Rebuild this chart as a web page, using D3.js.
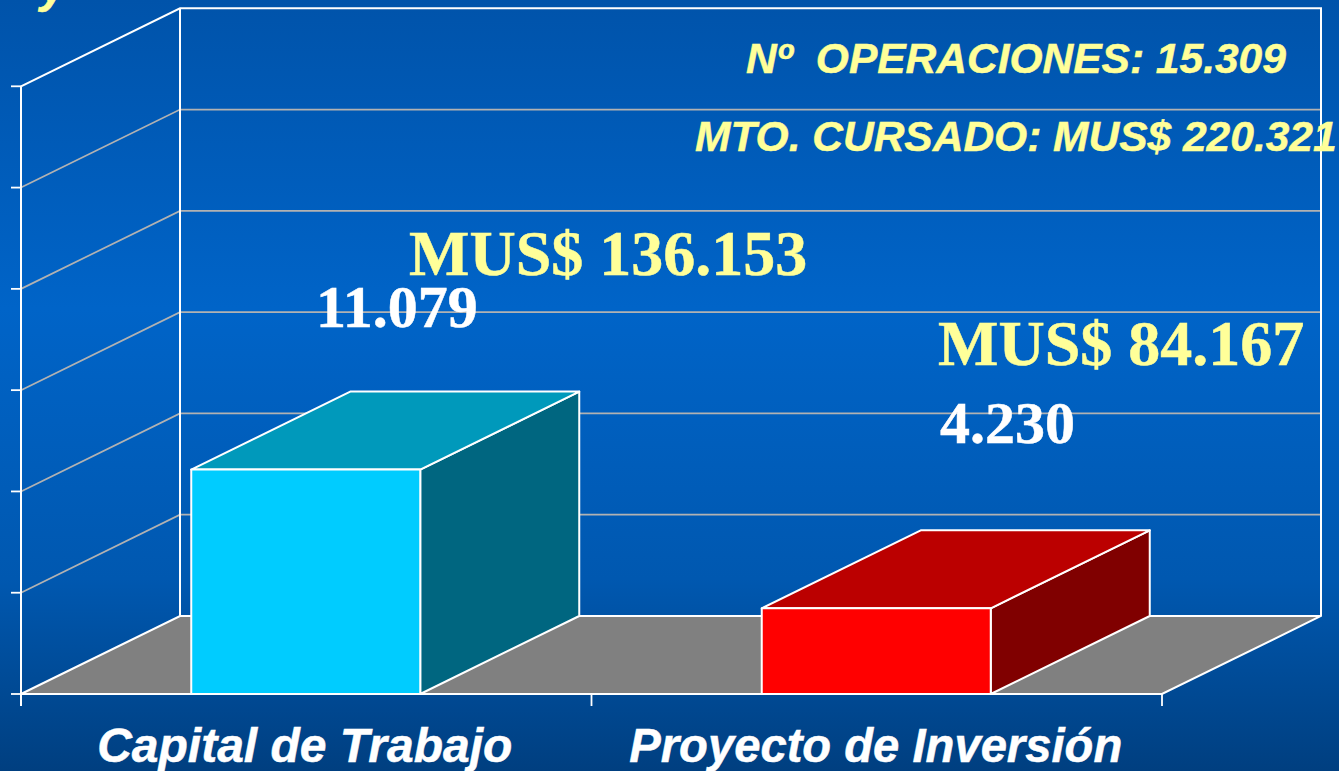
<!DOCTYPE html>
<html><head><meta charset="utf-8">
<script src="https://cdn.jsdelivr.net/npm/d3@7"></script>
<style>html,body{margin:0;padding:0;background:#0058b0;overflow:hidden}svg{display:block}</style>
</head><body><svg id="c" width="1339" height="771"></svg>
<script>
const categories = ["Capital de Trabajo", "Proyecto de Inversión"];
const operations = [11079, 4230];
const operationLabels = ["11.079", "4.230"];
const amountLabels = ["MUS$ 136.153", "MUS$ 84.167"];
const yTicks = [0, 5000, 10000, 15000, 20000, 25000, 30000];
const summary = ["Nº  OPERACIONES: 15.309", "MTO. CURSADO: MUS$ 220.321"];
const frontColors = ["#00ccff", "#ff0000"];
const topColors = ["#0099bb", "#bb0000"];
const sideColors = ["#006680", "#800000"];

const svg = d3.select("#c");
const W = 1339, H = 771;
const dx = 159, dy = -78;
const x = d3.scaleBand().domain(categories).range([21, 1162]).paddingInner(0).paddingOuter(0);
const y = d3.scaleLinear().domain([0, 30000]).range([694, 86.3]);
const line = d3.line();

const defs = svg.append("defs");
const grad = defs.append("linearGradient").attr("id", "bg").attr("x1", 0).attr("x2", 0).attr("y1", 0).attr("y2", 1);
[[0, "#0053aa"], [0.4, "#0064c8"], [0.75, "#0058b0"], [1, "#003f80"]].forEach(d =>
  grad.append("stop").attr("offset", d[0]).attr("stop-color", d[1]));
svg.append("rect").attr("width", W).attr("height", H).attr("fill", "url(#bg)");

const x0 = x.range()[0], x1 = x.range()[1];
// floor
svg.append("path").attr("d", line([[x0, y(0)], [x0 + dx, y(0) + dy], [x1 + dx, y(0) + dy], [x1, y(0)]]) + "Z")
  .attr("fill", "#808080");
// gridlines
yTicks.slice(1, -1).forEach(t => {
  svg.append("path").attr("d", line([[x0, y(t)], [x0 + dx, y(t) + dy], [x1 + dx, y(t) + dy]]))
    .attr("fill", "none").attr("stroke", "#b2b2b2").attr("stroke-width", 1.7);
});
// walls frame
const yMax = y(30000);
svg.append("path").attr("d", line([[x0, yMax], [x0 + dx, yMax + dy], [x1 + dx, yMax + dy], [x1 + dx, y(0) + dy], [x1, y(0)], [x0, y(0)], [x0 + dx, y(0) + dy], [x1 + dx, y(0) + dy]]))
  .attr("fill", "none").attr("stroke", "#fff").attr("stroke-width", 2);
svg.append("path").attr("d", line([[x0 + dx, yMax + dy], [x0 + dx, y(0) + dy]])).attr("stroke", "#fff").attr("stroke-width", 2);
svg.append("path").attr("d", line([[x0, yMax], [x0, y(0) + 12]])).attr("stroke", "#fff").attr("stroke-width", 2);
// ticks
yTicks.forEach(t => svg.append("path").attr("d", line([[x0 - 10, y(t)], [x0, y(t)]])).attr("stroke", "#fff").attr("stroke-width", 1.8));
[x0, x0 + x.bandwidth(), x1].forEach(v => svg.append("path").attr("d", line([[v, y(0)], [v, y(0) + 12]])).attr("stroke", "#fff").attr("stroke-width", 1.8));

// bars
const barW = 229;
categories.forEach((c, i) => {
  const l = x(c) + (x.bandwidth() - barW) / 2 - 0.5, r = l + barW, b = y(0), t = y(operations[i]);
  const face = (pts, fill) => svg.append("path").attr("d", line(pts) + "Z").attr("fill", fill)
    .attr("stroke", "#fff").attr("stroke-width", 2).attr("stroke-linejoin", "round");
  face([[r, b], [r + dx, b + dy], [r + dx, t + dy], [r, t]], sideColors[i]);
  face([[l, t], [r, t], [r + dx, t + dy], [l + dx, t + dy]], topColors[i]);
  face([[l, b], [r, b], [r, t], [l, t]], frontColors[i]);
});

// text
const sans = "'Liberation Sans', Arial, sans-serif", serif = "'Liberation Serif', 'Times New Roman', serif";
const txt = (s, px, py, size, fam, fill, anchor, style) => svg.append("text").text(s)
  .attr("x", px).attr("y", py).attr("font-size", size).attr("font-family", fam).attr("fill", fill)
  .attr("font-weight", "bold").attr("font-style", style || "normal").attr("text-anchor", anchor || "start")
  .attr("stroke", fill).attr("stroke-width", 0.5)
  .style("white-space", "pre");
categories.forEach((c, i) => txt(c, x(c) + x.bandwidth() / 2 + (i ? -1 : -1.5), 762, i ? 47.2 : 48, sans, "#fff", "middle", "italic"));
txt(summary[0], 746, 73, 42.5, sans, "#ffff99", "start", "italic");
txt(summary[1], 695, 151, 42.5, sans, "#ffff99", "start", "italic");
txt(amountLabels[0], 409, 275, 64, serif, "#ffff99");
txt(amountLabels[1], 938, 365, 64, serif, "#ffff99");
txt(operationLabels[0], 316, 327, 60, serif, "#fff");
txt(operationLabels[1], 940, 443, 60, serif, "#fff");
txt("y", 40, 2, 48, sans, "#ffff99", "start", "italic");
</script></body></html>
